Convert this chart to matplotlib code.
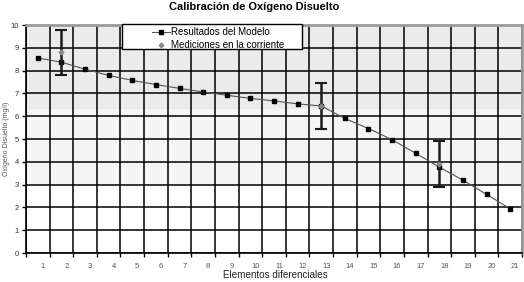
import numpy as np
import matplotlib
matplotlib.use("Agg")
import matplotlib.pyplot as plt
import matplotlib.transforms as mtransforms
from matplotlib.patches import Rectangle

plt.rcParams["font.family"] = ["Liberation Sans", "DejaVu Sans"]

# data
elementos = list(range(1, 22))
modelo = [8.55, 8.37, 8.06, 7.79, 7.57, 7.39, 7.22, 7.06, 6.92, 6.78, 6.67,
          6.54, 6.45, 5.90, 5.46, 4.97, 4.37, 3.77, 3.19, 2.57, 1.94]
med_x = [2, 13, 18]
med_y = [8.8, 6.45, 3.9]
med_err = [1.0, 1.0, 1.0]

W, H = 524, 282
fig = plt.figure(figsize=(W / 100, H / 100), dpi=100)
ax = fig.add_axes([26 / W, 29 / H, 496 / W, 228 / H])

# excel style shaded plot area
ax.axhspan(6.3, 10, color="#ebebeb", zorder=0, lw=0)
ax.axhspan(3, 6.3, color="#f5f5f5", zorder=0, lw=0)

ax.plot(elementos, modelo, color="#555555", lw=0.8, marker="s", ms=2.4,
        mfc="black", mec="black", label="Resultados del Modelo", zorder=3)
ax.errorbar(med_x, med_y, yerr=med_err, fmt="none", ecolor="#1a1a1a",
            elinewidth=1.8, capsize=4, capthick=1.5, zorder=4)
ax.plot(med_x, med_y, ls="none", marker="D", ms=2.4, color="#8a8a8a",
        label="Mediciones en la corriente", zorder=5)

ax.set_xlim(0.5, 21.5)
ax.set_ylim(0, 10)
ax.set_xticks(elementos)
ax.set_xticks(np.arange(0.5, 22, 1), minor=True)
ax.set_yticks(range(0, 11))
ax.grid(True, which="minor", axis="x", color="black", lw=1.1)
ax.grid(True, which="major", axis="y", color="black", lw=1.1)
ax.set_axisbelow(True)
ax.tick_params(axis="x", which="major", length=0, labelsize=5.5,
               labelcolor="#555555", pad=7)
ax.tick_params(axis="x", which="minor", length=3, width=1, color="black")
ax.tick_params(axis="y", length=3, width=1, labelsize=5.5,
               labelcolor="#333333", pad=2)
# labels sit a bit right of the category centre
shift = mtransforms.ScaledTranslation(5 / 100, 0, fig.dpi_scale_trans)
for lab in ax.get_xticklabels():
    lab.set_transform(lab.get_transform() + shift)

for s in ["left", "bottom"]:
    ax.spines[s].set_color("black")
    ax.spines[s].set_linewidth(1.2)
for s in ["top", "right"]:
    ax.spines[s].set_color("#9a9a9a")
    ax.spines[s].set_linewidth(2)

fig.text(275 / W, 1 - 275 / H, "Elementos diferenciales", ha="center",
         va="center", fontsize=7.1, color="#222222")
fig.text(7 / W, 1 - 139 / H, "Oxígeno Disuelto (mg/l)", ha="center",
         va="center", rotation=90, fontsize=5, color="#555555")
fig.text(254 / W, 1 - 7 / H, "Calibración de Oxígeno Disuelto",
         ha="center", va="center", fontsize=7.9, fontweight="bold")

# legend box drawn by hand (wide left padding like the excel one)
box = Rectangle((96 / 496, 204 / 228), 180 / 496, 25 / 228,
                transform=ax.transAxes, facecolor="white", edgecolor="black",
                lw=1, zorder=9, clip_on=False)
ax.add_patch(box)
leg = ax.legend(loc="upper left",
                bbox_to_anchor=(150 / W, 1 - 25 / H),
                bbox_transform=fig.transFigure,
                fontsize=7, frameon=False, borderpad=0.25, labelspacing=0.3,
                handlelength=1.8, handletextpad=0.15, borderaxespad=0)
leg.set_zorder(10)

fig.savefig("out.png", dpi=100)
